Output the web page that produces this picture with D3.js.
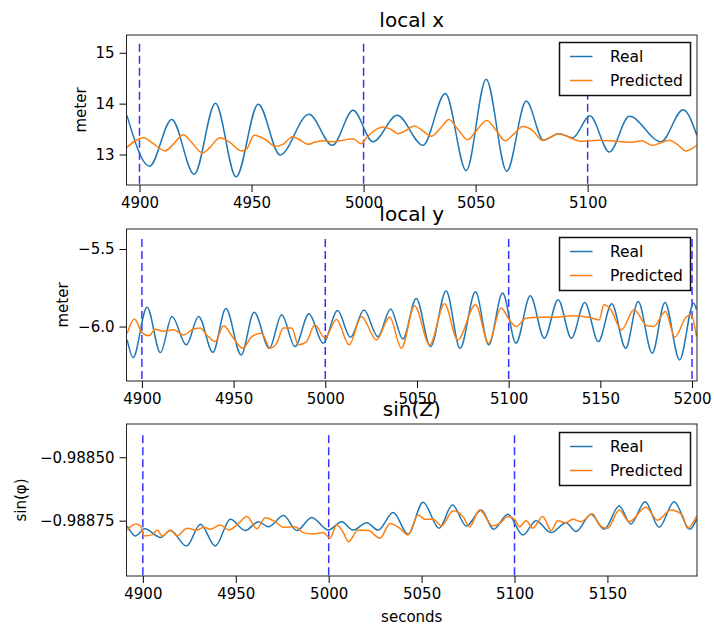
<!DOCTYPE html>
<html>
<head>
<meta charset="utf-8">
<script src="https://cdn.jsdelivr.net/npm/d3@7"></script>
<style>
  body { margin: 0; background: #fff; }
  text { font-family: "DejaVu Sans", sans-serif; fill: #000; }
</style>
</head>
<body>
<div id="chart"></div>
<script>
// ---- data ----
var seriesNames = ["Real", "Predicted"];
var seriesColors = ["#1f77b4", "#ff7f0e"];
var markerTimes = [4900, 5000, 5100, 5200];

// panel 1: local x
var xTicks1 = [4900, 4950, 5000, 5050, 5100];
var yTicks1 = [13, 14, 15];
var realX = [[4894.4,13.77],[4904.5,12.77],[4914.4,13.69],[4924.4,12.61],[4933.9,14.01],[4943.1,12.56],[4953,13.99],
  [4962.7,12.99],[4975.6,13.79],[4986.1,13.18],[4995.3,13.87],[5004.2,13.25],[5015,13.77],[5026.5,13.18],[5036.5,14.2],
  [5045.8,12.68],[5054.7,14.48],[5063.9,12.67],[5072.6,14.05],[5080.3,13.28],[5087.1,13.41],[5093.3,13.33],[5101,13.76],
  [5109.7,13.05],[5118.6,13.75],[5132.7,13.25],[5142.6,13.88],[5148.7,13.38]];
var predX = [[4894.4,13.14],[4901.8,13.33],[4906,13.22],[4911.4,13.07],[4915,13.2],[4919.6,13.39],[4923,13.25],[4928.2,13.03],
  [4931,13.12],[4935.9,13.33],[4940,13.25],[4945.6,13.07],[4948,13.12],[4951.1,13.38],[4956.7,13.28],[4960.4,13.16],[4964,13.2],
  [4968.3,13.35],[4971,13.3],[4975.3,13.2],[4978,13.24],[4981.9,13.27],[4986,13.25],[4990.9,13.28],[4995.3,13.31],[4999,13.21],
  [5001.3,13.33],[5008.7,13.54],[5012,13.5],[5015.4,13.41],[5018,13.45],[5022.8,13.56],[5026,13.48],[5030.2,13.36],[5034,13.5],
  [5038.1,13.69],[5042,13.5],[5046.5,13.29],[5050,13.45],[5055,13.67],[5059,13.48],[5063.3,13.27],[5067,13.4],[5071,13.55],
  [5075.5,13.47],[5079.7,13.28],[5083,13.33],[5087.1,13.41],[5093.3,13.31],[5097.1,13.26],[5105.2,13.28],[5112.6,13.26],
  [5120,13.24],[5124,13.27],[5128.9,13.18],[5132,13.22],[5136.4,13.28],[5140,13.2],[5143.8,13.07],[5148.7,13.18]];

// panel 2: local y
var xTicks2 = [4900, 4950, 5000, 5050, 5100, 5150, 5200];
var yTicks2 = [-6.0, -5.5];
var realY = [[4892,-6.086],[4895.2,-6.2],[4902.8,-5.875],[4910.1,-6.168],[4916.4,-5.935],[4924.2,-6.118],[4930.9,-5.935],
  [4938.7,-6.166],[4945.8,-5.884],[4954.1,-6.183],[4961.2,-5.907],[4969.5,-6.14],[4976.2,-5.924],[4983.5,-6.129],[4991.1,-5.918],
  [4998.8,-6.107],[5006.7,-5.897],[5013.7,-6.069],[5021.1,-5.894],[5028.7,-6.065],[5035.6,-5.886],[5042.3,-6.08],[5049.6,-5.819],
  [5057.4,-6.129],[5065.9,-5.771],[5073.5,-6.14],[5081.9,-5.776],[5089.1,-6.118],[5096.7,-5.784],[5104,-6.107],[5111.8,-5.802],
  [5119.4,-6.075],[5127,-5.827],[5134.2,-6.075],[5141.5,-5.845],[5148.9,-6.097],[5156.2,-5.853],[5163.8,-6.14],[5170.6,-5.839],
  [5178.3,-6.172],[5185.2,-5.845],[5193.2,-6.215],[5200.9,-5.849],[5202.4,-5.89]];
var predY = [[4892,-6.043],[4895.9,-5.952],[4900.1,-6.039],[4903.8,-6.06],[4907.3,-6.017],[4911.8,-6.03],[4917.3,-6.021],
  [4922.7,-6.054],[4927.3,-6.021],[4931.8,-6.01],[4935.4,-6.054],[4940,-6.097],[4944.5,-5.995],[4949.9,-6.075],[4955,-6.14],
  [4959.9,-6.065],[4965.3,-6.043],[4969.9,-6.14],[4973.5,-6.107],[4977.1,-6.01],[4981.7,-6.01],[4985.3,-6.118],[4989.8,-6.097],
  [4994.3,-5.989],[4999.8,-6.075],[5006.1,-5.954],[5013,-6.118],[5019.7,-5.935],[5027.9,-6.086],[5035.1,-5.939],[5041.5,-6.14],
  [5048.7,-5.866],[5056.9,-6.118],[5065,-5.853],[5072.2,-6.086],[5081.9,-5.86],[5089.1,-6.107],[5095.8,-5.881],[5100.4,-5.957],
  [5104,-6.0],[5109.4,-5.946],[5116.7,-5.94],[5125.7,-5.94],[5134.8,-5.93],[5143.9,-5.94],[5149.3,-5.957],[5152,-5.86],
  [5155.6,-5.89],[5161.6,-6.021],[5168.3,-5.892],[5175.5,-5.995],[5179.2,-5.999],[5185.5,-5.903],[5190.6,-6.069],
  [5196.7,-5.94],[5199.5,-5.924],[5202.4,-6.065]];

// panel 3: sin(Z)
var xTicks3 = [4900, 4950, 5000, 5050, 5100, 5150];
var yTicks3 = [-0.98875, -0.98850];
var realZ = [[4891.6,-0.988771],[4896.1,-0.98881],[4901,-0.988782],[4909.5,-0.988816],[4914.9,-0.988789],[4923.5,-0.98885],
  [4931,-0.988764],[4939,-0.98885],[4947.1,-0.988744],[4955.1,-0.988789],[4962.2,-0.988754],[4967.6,-0.988774],[4975.7,-0.98873],
  [4982.9,-0.988789],[4990.9,-0.988737],[4999.8,-0.988787],[5007,-0.988754],[5013.2,-0.988787],[5020.4,-0.988758],
  [5026.6,-0.988787],[5034.7,-0.988718],[5042.7,-0.988803],[5050.8,-0.988677],[5059.4,-0.98878],[5066.6,-0.988688],
  [5074.1,-0.988771],[5082.1,-0.988708],[5088.7,-0.988784],[5096.4,-0.988725],[5104.5,-0.988806],[5111.6,-0.98875],
  [5119.7,-0.988797],[5127.7,-0.988758],[5133.1,-0.988793],[5141.2,-0.988725],[5148.3,-0.988784],[5156.3,-0.988692],
  [5162.6,-0.988763],[5170.3,-0.988675],[5177.8,-0.988776],[5185.9,-0.988675],[5194.3,-0.988784],[5198,-0.988744]];
var predZ = [[4891.6,-0.988787],[4896.1,-0.988763],[4898.8,-0.988771],[4900.5,-0.98881],[4905,-0.988806],[4907.7,-0.988787],
  [4910.4,-0.98881],[4914.9,-0.988787],[4918.4,-0.98881],[4923.8,-0.98878],[4929.2,-0.988787],[4932.7,-0.988776],
  [4936.3,-0.988784],[4941.7,-0.988767],[4946.2,-0.988787],[4951.5,-0.988761],[4956,-0.988734],[4961.4,-0.988782],
  [4965.8,-0.988738],[4971.2,-0.988754],[4975.7,-0.988776],[4981.9,-0.988774],[4986.4,-0.988797],[4991.8,-0.988802],
  [4997.1,-0.988797],[5000.7,-0.988819],[5004.3,-0.988767],[5007.9,-0.988797],[5010.6,-0.988833],[5015.9,-0.988787],
  [5021.3,-0.988789],[5027.6,-0.988819],[5033,-0.988761],[5038.3,-0.98878],[5042.7,-0.988806],[5048.1,-0.988728],
  [5051.7,-0.988744],[5056.2,-0.988744],[5060.7,-0.988771],[5066.9,-0.988711],[5072.3,-0.988734],[5075.8,-0.988774],
  [5081.2,-0.988708],[5088.4,-0.988771],[5092,-0.988761],[5096.4,-0.988734],[5100,-0.988744],[5102.7,-0.988774],
  [5106.3,-0.98875],[5109.8,-0.98878],[5115.2,-0.988734],[5119.7,-0.988789],[5123.3,-0.98875],[5127.7,-0.988758],
  [5131.3,-0.988744],[5135.8,-0.988754],[5142,-0.988723],[5145.6,-0.988767],[5150.1,-0.98878],[5156.3,-0.988708],
  [5161.7,-0.988754],[5170.7,-0.988697],[5177,-0.988748],[5184.1,-0.988708],[5190.3,-0.988728],[5193,-0.98878],
  [5198,-0.988732]];

// ---- canvas ----
var width = 714, height = 626;
var svg = d3.select("#chart").append("svg")
    .attr("width", width)
    .attr("height", height);

var plotLeft = 126.5, plotW = 570.5;
var fontSm = "15px";

function drawPanel(p, idx) {
    var g = svg.append("g")
        .attr("transform", "translate(" + plotLeft + "," + p.top + ")");

    var x = d3.scaleLinear().domain(p.xDomain).range([0, plotW]);
    var y = d3.scaleLinear().domain(p.yDomain).range([p.h, 0]);

    // clip
    g.append("clipPath").attr("id", "clip" + idx)
        .append("rect").attr("width", plotW).attr("height", p.h);

    var plot = g.append("g").attr("clip-path", "url(#clip" + idx + ")");

    // dashed markers
    markerTimes.forEach(function(t) {
        plot.append("line")
            .attr("x1", x(t)).attr("x2", x(t))
            .attr("y1", y(p.markTop)).attr("y2", p.h)
            .attr("stroke", "#0000ff")
            .attr("stroke-opacity", 0.8)
            .attr("stroke-width", 1.5)
            .attr("stroke-dasharray", "8,4");
    });

    var line = d3.line()
        .x(function(d) { return x(d[0]); })
        .y(function(d) { return y(d[1]); })
        .curve(d3.curveMonotoneX);

    [p.real, p.pred].forEach(function(s, i) {
        plot.append("path")
            .datum(s)
            .attr("fill", "none")
            .attr("stroke", seriesColors[i])
            .attr("stroke-width", 1.5)
            .attr("d", line);
    });

    // axes
    var xAxis = g.append("g")
        .attr("transform", "translate(0," + p.h + ")")
        .call(d3.axisBottom(x).tickValues(p.xTicks).tickSize(7).tickPadding(5).tickFormat(d3.format("d")));
    var yAxis = g.append("g")
        .call(d3.axisLeft(y).tickValues(p.yTicks).tickSize(7).tickPadding(5).tickFormat(d3.format(p.yFmt)));
    [xAxis, yAxis].forEach(function(a) {
        a.select(".domain").remove();
        a.selectAll("text").attr("font-size", fontSm).attr("font-family", "DejaVu Sans").attr("fill", "#000");
        a.selectAll("line").attr("stroke", "#000");
    });

    // frame
    g.append("rect")
        .attr("width", plotW).attr("height", p.h)
        .attr("fill", "none")
        .attr("stroke", "#222")
        .attr("stroke-width", 1);

    // title
    g.append("text")
        .attr("x", plotW / 2).attr("y", -8)
        .attr("text-anchor", "middle")
        .attr("font-size", "20px")
        .text(p.title);

    // y label
    g.append("text")
        .attr("transform", "translate(" + (p.yLabelX - plotLeft) + "," + (p.h / 2) + ") rotate(-90)")
        .attr("text-anchor", "middle")
        .attr("dy", "0.35em")
        .attr("font-size", fontSm)
        .text(p.yLabel);

    // legend
    var lg = g.append("g").attr("transform", "translate(" + (559.5 - plotLeft) + "," + p.legendTop + ")");
    lg.append("rect")
        .attr("width", 131).attr("height", 53)
        .attr("fill", "#fff")
        .attr("stroke", "#111")
        .attr("stroke-width", 1.5);
    seriesNames.forEach(function(name, i) {
        var row = lg.append("g").attr("transform", "translate(0," + (14 + i * 24) + ")");
        row.append("line")
            .attr("x1", 10.5).attr("x2", 33)
            .attr("stroke", seriesColors[i])
            .attr("stroke-width", 1.5);
        row.append("text")
            .attr("x", 50.5).attr("dy", "0.35em")
            .attr("font-size", "15.5px")
            .text(name);
    });

    if (p.xLabel) {
        g.append("text")
            .attr("x", plotW / 2).attr("y", p.h + 46)
            .attr("text-anchor", "middle")
            .attr("font-size", fontSm)
            .text(p.xLabel);
    }
}

var panels = [
    { title: "local x", top: 35, h: 150, xDomain: [4894.2, 5148.8], yDomain: [12.4, 15.35],
      xTicks: xTicks1, yTicks: yTicks1, yFmt: "d", real: realX, pred: predX, markTop: 15.18,
      yLabel: "meter", yLabelX: 80.5, legendTop: 7.5 },
    { title: "local y", top: 229, h: 152, xDomain: [4891.6, 5202.7], yDomain: [-6.351, -5.371],
      xTicks: xTicks2, yTicks: yTicks2, yFmt: ".1f", real: realY, pred: predY, markTop: -5.435,
      yLabel: "meter", yLabelX: 63, legendTop: 8.5 },
    { title: "sin(Z)", top: 424, h: 152, xDomain: [4891.2, 5198.2], yDomain: [-0.988968, -0.988369],
      xTicks: xTicks3, yTicks: yTicks3, yFmt: ".5f", real: realZ, pred: predZ, markTop: -0.988413,
      yLabel: "sin(φ)", yLabelX: 21, legendTop: 8.5, xLabel: "seconds" }
];

panels.forEach(drawPanel);
</script>
</body>
</html>
